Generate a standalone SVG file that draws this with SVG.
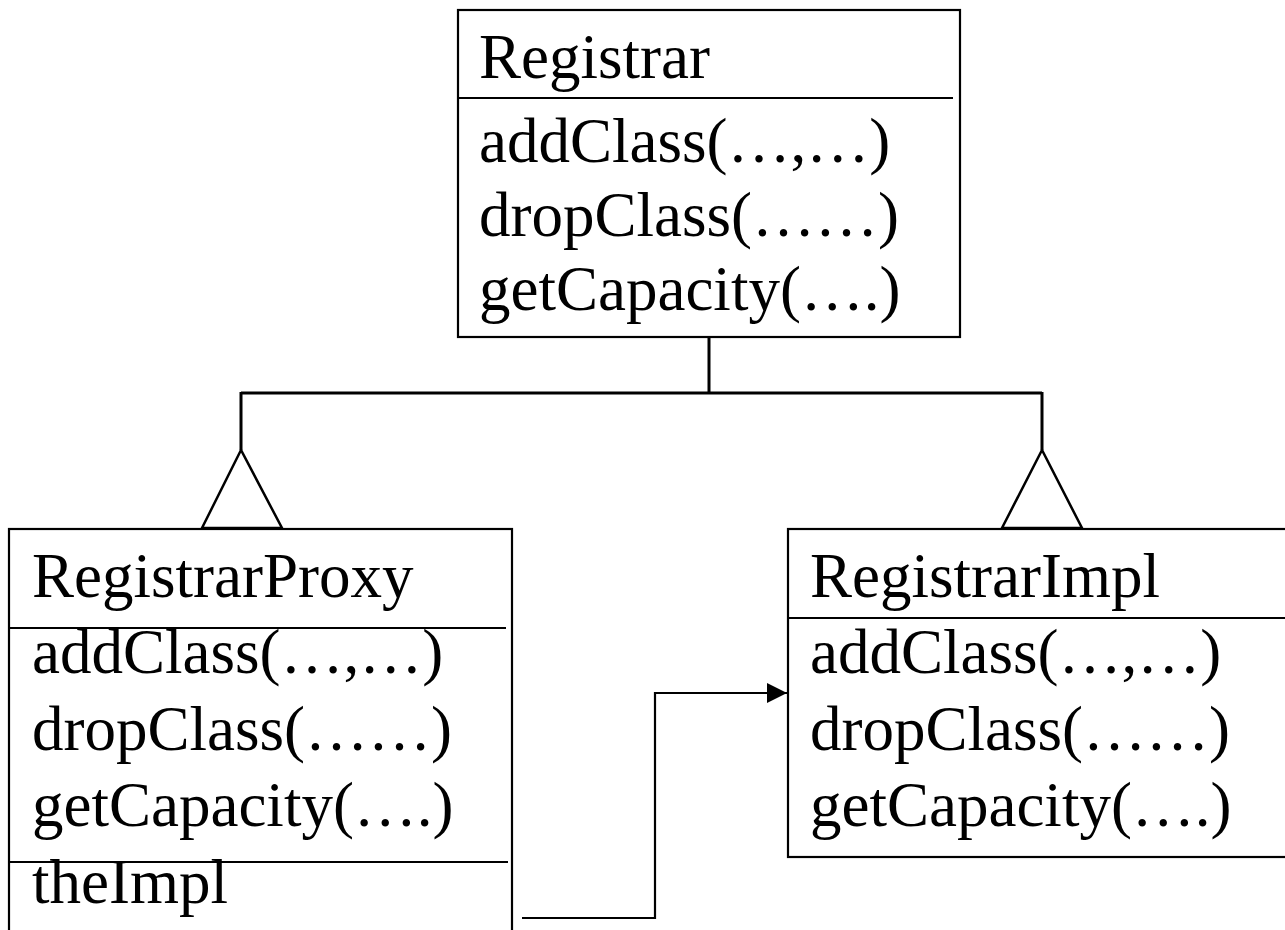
<svg xmlns="http://www.w3.org/2000/svg" width="1285" height="930" viewBox="0 0 1285 930">
  <style>
    .box { fill: #ffffff; stroke: #000000; stroke-width: 2.2; }
    .sep { stroke: #000000; stroke-width: 2.2; fill: none; }
    .label { font-family: "Liberation Serif", "Times New Roman", serif; font-size: 63px; fill: #000000; }
    .wire { stroke: #000000; stroke-width: 3; fill: none; }
    .gen { fill: #ffffff; stroke: #000000; stroke-width: 2.5; stroke-linejoin: miter; }
    .assoc { stroke: #000000; stroke-width: 2.2; fill: none; }
  </style>
  <defs>
    <marker id="arrowhead" viewBox="0 0 20 20" refX="20" refY="10" markerWidth="20" markerHeight="20" markerUnits="userSpaceOnUse" orient="auto">
      <path d="M0,0 L20,10 L0,20 Z" fill="#000000"/>
    </marker>
  </defs>
  <rect width="1285" height="930" fill="#ffffff"/>

  <!-- connectors -->
  <g id="connectors">
    <path class="wire" d="M709,337 L709,393 M241,393 L1042,393 M241,392 L241,450 M1042,392 L1042,450"/>
    <path class="gen" d="M241,450 L202,528 L282,528 Z"/>
    <path class="gen" d="M1042,450 L1002,528 L1082,528 Z"/>
    <path class="assoc" d="M522,918 L655,918 L655,693 L787,693" marker-end="url(#arrowhead)"/>
  </g>

  <!-- Registrar -->
  <g id="registrar">
    <rect class="box" x="458" y="10" width="502" height="327"/>
    <line class="sep" x1="458" y1="98" x2="953" y2="98"/>
    <text class="label" x="479" y="78">Registrar</text>
    <text class="label" x="479" y="162">addClass(…,…)</text>
    <text class="label" x="479" y="236">dropClass(……)</text>
    <text class="label" x="479" y="310">getCapacity(….)</text>
  </g>

  <!-- RegistrarProxy -->
  <g id="registrar-proxy">
    <rect class="box" x="9" y="529" width="503" height="420"/>
    <line class="sep" x1="9" y1="628" x2="506" y2="628"/>
    <line class="sep" x1="9" y1="862" x2="508" y2="862"/>
    <text class="label" x="32" y="597">RegistrarProxy</text>
    <text class="label" x="32" y="673">addClass(…,…)</text>
    <text class="label" x="32" y="750">dropClass(……)</text>
    <text class="label" x="32" y="826">getCapacity(….)</text>
    <text class="label" x="32" y="903">theImpl</text>
  </g>

  <!-- RegistrarImpl -->
  <g id="registrar-impl">
    <rect class="box" x="788" y="529" width="510" height="328"/>
    <line class="sep" x1="788" y1="618" x2="1290" y2="618"/>
    <text class="label" x="810" y="597">RegistrarImpl</text>
    <text class="label" x="810" y="673">addClass(…,…)</text>
    <text class="label" x="810" y="750">dropClass(……)</text>
    <text class="label" x="810" y="826">getCapacity(….)</text>
  </g>
</svg>
